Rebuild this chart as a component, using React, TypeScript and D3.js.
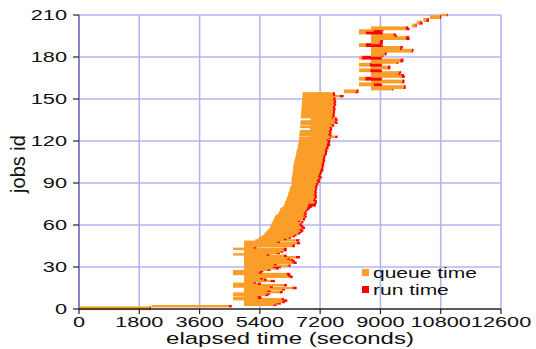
import React from "react";
import * as d3 from "d3";

// one entry per job id (0..210), times in seconds
const jobSubmit = [
  0, 0, 2170, 4930, 4930, 4930, 4930, 4600, 4600, 4930,
  4600, 4600, 4930, 4930, 4930, 4930, 4600, 4600, 4600, 4930,
  4930, 4930, 4930, 4930, 4930, 4600, 4600, 4600, 4930, 4930,
  4930, 4930, 4930, 4930, 4930, 4930, 4930, 4930, 4930, 4600,
  4930, 4930, 4930, 4600, 4930, 4930, 4930, 4930, 4930, 5260,
  5350, 5400, 5470, 5520, 5560, 5600, 5630, 5680, 5700, 5720,
  5750, 5750, 5780, 5800, 5820, 5850, 5850, 5900, 5950, 5970,
  6000, 6000, 6050, 6100, 6120, 6150, 6150, 6180, 6200, 6200,
  6220, 6240, 6250, 6260, 6280, 6300, 6300, 6320, 6350, 6350,
  6350, 6350, 6350, 6350, 6360, 6370, 6380, 6380, 6380, 6390,
  6400, 6400, 6400, 6410, 6420, 6430, 6440, 6450, 6460, 6470,
  6480, 6490, 6500, 6500, 6520, 6530, 6540, 6550, 6550, 6560,
  6560, 6570, 6570, 6900, 6580, 6590, 6590, 6600, 6900, 6900,
  6600, 6910, 6610, 6610, 6620, 6920, 6920, 6620, 6630, 6630,
  6640, 6640, 6640, 6650, 6650, 6650, 6660, 6660, 6660, 6670,
  6670, 6670, 6680, 6680, 6680, 7910, 7920, 8720, 8720, 8720,
  8360, 8360, 8720, 8720, 8360, 8360, 8720, 8720, 8720, 8720,
  8360, 8360, 8720, 8720, 8360, 8360, 8720, 8720, 8720, 8360,
  8360, 8720, 8720, 8720, 8720, 8720, 8720, 8720, 8360, 8360,
  8720, 8720, 8720, 8720, 8720, 8720, 8720, 8360, 8360, 8360,
  8720, 8720, 9940, 9950, 10080, 10090, 10280, 10280, 10480, 10480,
  10810,
];

const jobStart = [
  2100, 2110, 4480, 5800, 5900, 6060, 6100, 6050, 5350, 5330,
  5560, 5600, 5990, 5620, 6050, 6380, 5700, 6120, 5340, 5200,
  5720, 5520, 5400, 6300, 6240, 6200, 5370, 5400, 5620, 5880,
  5790, 6250, 5820, 6400, 6370, 6320, 6220, 6480, 6120, 5600,
  5900, 6020, 6120, 6110, 5220, 6360, 6380, 6500, 5920, 6480,
  6120, 6250, 6370, 6420, 6520, 6560, 6620, 6580, 6660, 6630,
  6580, 6590, 6640, 6540, 6680, 6690, 6740, 6700, 6740, 6720,
  6750, 6790, 6800, 6820, 6840, 6850, 7030, 7040, 6990, 7020,
  7040, 7040, 7000, 7040, 7020, 7040, 7050, 7060, 7040, 7080,
  7070, 7120, 7100, 7130, 7170, 7130, 7160, 7180, 7190, 7200,
  7220, 7240, 7240, 7250, 7240, 7270, 7280, 7270, 7290, 7290,
  7320, 7330, 7340, 7350, 7340, 7370, 7380, 7410, 7400, 7420,
  7430, 7390, 7460, 7650, 7480, 7440, 7480, 7460, 7480, 7500,
  7480, 7560, 7540, 7650, 7620, 7660, 7640, 7540, 7580, 7560,
  7580, 7590, 7580, 7600, 7580, 7590, 7620, 7590, 7620, 7600,
  7590, 7600, 7790, 7590, 7580, 8250, 8290, 9350, 9690, 9700,
  8810, 8800, 9640, 9660, 8540, 8560, 9640, 9620, 9540, 9560,
  8700, 8700, 9210, 9220, 8680, 8690, 9480, 9590, 9600, 8440,
  8460, 9040, 9120, 9130, 9930, 9940, 9590, 9590, 8570, 8560,
  8980, 8980, 9000, 9770, 9760, 9440, 9390, 8570, 8560, 8800,
  9770, 9750, 10050, 10050, 10160, 10190, 10350, 10400, 10780, 10780,
  10980,
];

const jobEnd = [
  2130, 2150, 4560, 5900, 6030, 6150, 6220, 6120, 5450, 5430,
  5650, 5700, 6080, 5720, 6150, 6500, 5790, 6210, 5430, 5280,
  5850, 5600, 5500, 6380, 6320, 6300, 5450, 5500, 5720, 5970,
  6030, 6320, 5900, 6500, 6450, 6400, 6300, 6600, 6200, 5690,
  6000, 6100, 6200, 6200, 5300, 6450, 6450, 6600, 6000, 6580,
  6200, 6330, 6450, 6500, 6600, 6650, 6700, 6650, 6750, 6700,
  6650, 6650, 6700, 6600, 6750, 6750, 6800, 6750, 6800, 6780,
  6800, 6850, 6900, 6950, 7070, 7080, 7100, 7100, 7050, 7080,
  7100, 7100, 7060, 7100, 7080, 7100, 7100, 7120, 7100, 7150,
  7130, 7200, 7160, 7200, 7250, 7200, 7220, 7250, 7250, 7300,
  7280, 7300, 7300, 7320, 7300, 7330, 7350, 7330, 7350, 7350,
  7380, 7400, 7400, 7420, 7400, 7450, 7440, 7500, 7480, 7500,
  7500, 7450, 7520, 7720, 7540, 7500, 7540, 7520, 7550, 7560,
  7540, 7620, 7600, 7720, 7680, 7720, 7700, 7600, 7640, 7620,
  7640, 7650, 7640, 7660, 7640, 7650, 7680, 7650, 7680, 7660,
  7650, 7660, 7900, 7650, 7640, 8340, 8340, 9390, 9750, 9750,
  9040, 9040, 9710, 9720, 9040, 9040, 9730, 9700, 9590, 9620,
  9040, 9030, 9290, 9300, 9040, 9040, 9540, 9680, 9690, 9040,
  9030, 9090, 9180, 9190, 9970, 9990, 9640, 9670, 9070, 9030,
  9070, 9070, 9080, 9870, 9860, 9490, 9460, 9070, 9030, 9090,
  9870, 9830, 10080, 10080, 10260, 10230, 10450, 10450, 10810, 10810,
  11010,
];

const xTicks = [0, 1800, 3600, 5400, 7200, 9000, 10800, 12600];
const yTicks = [0, 30, 60, 90, 120, 150, 180, 210];
const seriesNames = ["queue time", "run time"];
const seriesColors = ["#fa9e2a", "#ff0000"];

// the source picture is stretched sideways, so text is too
const STRETCH = 1.5;
const FONT = "'Liberation Sans', Arial, sans-serif";

export default function App() {
  const x = d3.scaleLinear().domain([0, 12600]).range([79, 501]);
  const y = d3.scaleLinear().domain([0, 210]).range([309, 15]);
  const barH = 2.4;
  const jobs = d3.range(jobSubmit.length);

  return (
    <svg
      width={536}
      height={349}
      style={{ position: "absolute", left: 0, top: 0, background: "#fff" }}
      fontFamily={FONT}
    >
      {/* grid */}
      {xTicks.slice(1).map((t) => (
        <line key={"gx" + t} x1={x(t)} x2={x(t)} y1={y(210)} y2={y(0)} stroke="#b4b4f2" strokeWidth={1.6} />
      ))}
      {yTicks.slice(1).map((t) => (
        <line key={"gy" + t} x1={x(0)} x2={x(12600)} y1={y(t)} y2={y(t)} stroke="#b4b4f2" strokeWidth={1.6} />
      ))}

      {/* bars: queue then run, job by job */}
      {jobs.map((i) => (
        <g key={i}>
          <rect
            x={x(jobSubmit[i])}
            y={y(i) - barH / 2}
            width={Math.max(0, x(jobStart[i]) - x(jobSubmit[i]))}
            height={barH}
            fill={seriesColors[0]}
          />
          <rect
            x={x(jobStart[i])}
            y={y(i) - barH / 2}
            width={Math.max(0, x(jobEnd[i]) - x(jobStart[i]))}
            height={barH}
            fill={seriesColors[1]}
          />
        </g>
      ))}

      {/* axes */}
      <line x1={x(0)} x2={x(0)} y1={y(210)} y2={y(0)} stroke="#8484c4" strokeWidth={2} />
      <line x1={x(0)} x2={x(12600)} y1={y(0)} y2={y(0)} stroke="#222" strokeWidth={1.5} />
      {xTicks.map((t) => (
        <g key={"tx" + t}>
          <line x1={x(t)} x2={x(t)} y1={y(0)} y2={y(0) + 5} stroke="#222" strokeWidth={1.2} />
          <text
            transform={`translate(${x(t)},327) scale(${STRETCH},1)`}
            textAnchor="middle"
            fontSize={14.5}
            fill="#111"
          >
            {t}
          </text>
        </g>
      ))}
      {yTicks.map((t) => (
        <g key={"ty" + t}>
          <line x1={x(0) - 6} x2={x(0)} y1={y(t)} y2={y(t)} stroke="#222" strokeWidth={1.2} />
          <text
            transform={`translate(67,${y(t) + 5}) scale(${STRETCH},1)`}
            textAnchor="end"
            fontSize={14.5}
            fill="#111"
          >
            {t}
          </text>
        </g>
      ))}

      {/* titles */}
      <text
        transform={`translate(290,344) scale(${STRETCH},1)`}
        textAnchor="middle"
        fontSize={16}
        fill="#111"
      >
        elapsed time (seconds)
      </text>
      <text
        transform="translate(25,164) rotate(-90)"
        textAnchor="middle"
        fontSize={20}
        fill="#111"
      >
        jobs id
      </text>

      {/* legend */}
      {seriesNames.map((name, k) => (
        <g key={name}>
          <rect x={362} y={269 + k * 17} width={7} height={7} fill={seriesColors[k]} />
          <text
            transform={`translate(373,${278 + k * 17}) scale(${STRETCH},1)`}
            fontSize={14}
            fill="#111"
          >
            {name}
          </text>
        </g>
      ))}
    </svg>
  );
}
